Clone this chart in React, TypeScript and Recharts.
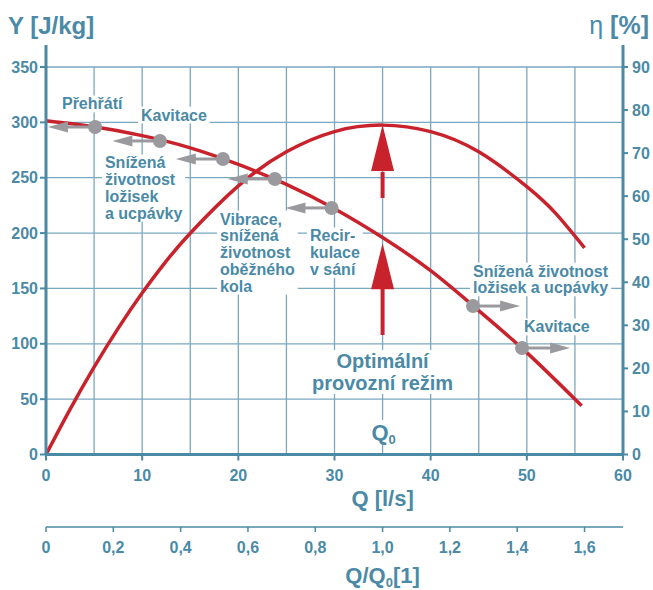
import React from "react"
import { CartesianGrid, ComposedChart, Line, Scatter, XAxis, YAxis } from "recharts"

const BLUE = "#4a8aa6"
const GRID = "#78a9c0"
const RED = "#c8232c"
const GREY = "#9a9a9e"
const FONT = '"Liberation Sans", Arial, Helvetica, sans-serif'

// axis ticks
const Q_TICKS = [0, 5, 10, 15, 20, 25, 30, 35, 40, 45, 50, 55, 60]
const Y_TICKS = [0, 50, 100, 150, 200, 250, 300, 350]
const ETA_TICKS = [0, 10, 20, 30, 40, 50, 60, 70, 80, 90]
const REL_TICKS = [0, 0.2, 0.4, 0.6, 0.8, 1.0, 1.2, 1.4, 1.6]
const Q0 = 35

// head curve Y [J/kg]
const HEAD = [
    { q: 0, y: 301.5 }, { q: 5, y: 296 }, { q: 10, y: 288 }, { q: 15, y: 277 },
    { q: 20, y: 262 }, { q: 25, y: 244 }, { q: 30, y: 222 }, { q: 35, y: 196 },
    { q: 40, y: 166 }, { q: 45, y: 130 }, { q: 50, y: 92 }, { q: 55.7, y: 44 },
]

// efficiency curve eta [%]
const EFFICIENCY = [
    { q: 0, eta: 0 }, { q: 2.5, eta: 10.5 }, { q: 5, eta: 20.3 }, { q: 7.5, eta: 29.3 },
    { q: 10, eta: 37.5 }, { q: 12.5, eta: 44.9 }, { q: 15, eta: 51.4 }, { q: 20, eta: 62.4 },
    { q: 25, eta: 70.3 }, { q: 30, eta: 75 }, { q: 35, eta: 76.5 }, { q: 40, eta: 75 },
    { q: 45, eta: 70.3 }, { q: 50, eta: 62.2 }, { q: 53, eta: 56 }, { q: 56, eta: 48 },
]

// grey markers on the head curve, arrow pointing to tipQ
const GREY_ARROWS = [
    { q: 5.1, y: 295.8, tipQ: 0.2 },
    { q: 11.85, y: 283.2, tipQ: 6.9 },
    { q: 18.4, y: 266.9, tipQ: 13.5 },
    { q: 23.8, y: 248.9, tipQ: 18.9 },
    { q: 29.7, y: 222.7, tipQ: 24.9 },
    { q: 44.4, y: 134.1, tipQ: 49.3 },
    { q: 49.5, y: 96.2, tipQ: 54.5 },
]

// red arrows at Q0
const RED_ARROWS = [
    { q: Q0, tail: 231.7, base: 254.3, tip: 297.6 },
    { q: Q0, tail: 107.9, base: 152.2, tip: 190.9 },
]

// text notes (q, y of first line centre)
const NOTES = [
    { q: 1.66, y: 316.6, lines: ["Přehřátí"] },
    { q: 9.88, y: 306.6, lines: ["Kavitace"] },
    { q: 6.13, y: 263.3, lines: ["Snížená", "životnost", "ložisek", "a ucpávky"] },
    { q: 18.1, y: 212.7, lines: ["Vibrace,", "snížená", "životnost", "oběžného", "kola"] },
    { q: 27.45, y: 197.4, lines: ["Recir-", "kulace", "v sání"] },
    { q: 44.4, y: 165.7, lines: ["Snížená životnost", "ložisek a ucpávky"] },
    { q: 49.7, y: 115.2, lines: ["Kavitace"] },
]
const OPTIMUM = [{ q: Q0, y: 84.5, lines: ["Optimální", "provozní režim"] }]
const Q0_NOTE = [{ q: Q0, y: 20.3 }]

let ctx: CanvasRenderingContext2D | null = null
const textWidth = (s: string, size: number) => {
    if (!ctx) ctx = document.createElement("canvas").getContext("2d")
    if (!ctx) return s.length * size * 0.56
    ctx.font = `bold ${size}px ${FONT}`
    return ctx.measureText(s).width
}

const Note = (size: number, lh: number, middle: boolean) => (props: any) => {
    const { cx, cy, payload } = props
    const lines: string[] = payload.lines
    const w = Math.max(...lines.map(l => textWidth(l, size)))
    const left = middle ? cx - w / 2 : cx
    return (
        <g>
            <rect x={left - 3} y={cy - lh / 2} width={w + 6} height={lines.length * lh} fill="#fff" />
            {lines.map((l, i) => (
                <text key={i} x={cx} y={cy + i * lh} textAnchor={middle ? "middle" : "start"}
                    dominantBaseline="central" fill={BLUE} fontSize={size} fontWeight="bold">{l}</text>
            ))}
        </g>
    )
}

const Q0Mark = (props: any) => {
    const { cx, cy } = props
    return (
        <g>
            <rect x={cx - 13} y={cy - 12} width={28} height={25} fill="#fff" />
            <text x={cx + 1} y={cy} textAnchor="middle" dominantBaseline="central" fill={BLUE} fontWeight="bold">
                <tspan fontSize={22}>Q</tspan><tspan fontSize={13} dy={7}>0</tspan>
            </text>
        </g>
    )
}

const Marker = (props: any) => <circle cx={props.cx} cy={props.cy} r={7} fill={GREY} />

const GreyHead = (props: any) => {
    const { cx, cy, payload } = props
    const d = payload.dir
    return <polygon points={`${cx},${cy} ${cx - d * 20},${cy - 5.5} ${cx - d * 20},${cy + 5.5}`} fill={GREY} />
}

const RedHead = (props: any) => {
    const { cx, cy } = props
    return <polygon points={`${cx},${cy} ${cx - 11.5},${cy + 46} ${cx + 11.5},${cy + 46}`} fill={RED} />
}

const QTick = (props: any) => {
    const { x, y, payload } = props
    if (payload.value % 10 !== 0) return <g />
    return (
        <g>
            <line x1={x} x2={x} y1={y} y2={y + 6} stroke={BLUE} strokeWidth={2} />
            <text x={x} y={y + 20.5} textAnchor="middle" dominantBaseline="central" fill={BLUE} fontSize={16} fontWeight="bold">{payload.value}</text>
        </g>
    )
}

const RelTick = (props: any) => {
    const { x, y, payload } = props
    const v: number = payload.value
    const s = v === 0 ? "0" : v.toFixed(1).replace(".", ",")
    return (
        <g>
            <line x1={x} x2={x} y1={y} y2={y + 5} stroke={BLUE} strokeWidth={1.5} />
            <text x={x} y={y + 20} textAnchor="middle" dominantBaseline="central" fill={BLUE} fontSize={16} fontWeight="bold">{s}</text>
        </g>
    )
}

const LeftTitle = ({ viewBox }: any) => {
    const { x, y, width } = viewBox
    return (
        <g>
            <line x1={x + width} x2={x + width} y1={y - 22} y2={y + 1} stroke={BLUE} strokeWidth={3} />
            <text x={8} y={y - 42} dominantBaseline="central" fill={BLUE} fontSize={24} fontWeight="bold">Y [J/kg]</text>
        </g>
    )
}

const RightTitle = ({ viewBox }: any) => {
    const { x, y } = viewBox
    return (
        <g>
            <line x1={x} x2={x} y1={y - 22} y2={y + 1} stroke={BLUE} strokeWidth={3} />
            <text x={x + 26} y={y - 42} textAnchor="end" dominantBaseline="central" fill={BLUE} fontSize={25}>
                <tspan>η </tspan><tspan fontWeight="bold">[%]</tspan>
            </text>
        </g>
    )
}

const QTitle = ({ viewBox }: any) => {
    const { x, y, width } = viewBox
    return (
        <text x={x + width * Q0 / 60} y={y + 43.5} textAnchor="middle" dominantBaseline="central" fill={BLUE} fontSize={22} fontWeight="bold">Q [l/s]</text>
    )
}

const RelTitle = ({ viewBox }: any) => {
    const { x, y, width } = viewBox
    return (
        <text x={x + width * Q0 / 60} y={y + 48} textAnchor="middle" dominantBaseline="central" fill={BLUE} fontSize={22} fontWeight="bold">
            <tspan>Q/Q</tspan><tspan fontSize={13} dy={7}>0</tspan><tspan dy={-7}>[1]</tspan>
        </text>
    )
}

const App = () => {
    const greyHeads = GREY_ARROWS.map(a => ({ q: a.tipQ, y: a.y, dir: a.tipQ < a.q ? -1 : 1 }))
    const redHeads = RED_ARROWS.map(a => ({ q: a.q, y: a.tip }))

    return (
        <div style={{ position: "absolute", left: 0, top: 0, fontFamily: FONT, background: "#fff" }}>
            <ComposedChart width={653} height={590} margin={{ top: 67, right: 0, bottom: 0, left: 0 }}>
                <CartesianGrid xAxisId="q" yAxisId="left" stroke={GRID} strokeWidth={1.3} />
                <XAxis xAxisId="q" dataKey="q" type="number" domain={[0, 60]} ticks={Q_TICKS} interval={0}
                    height={72.5} axisLine={{ stroke: BLUE, strokeWidth: 3 }} tickLine={false} tickSize={0} tickMargin={0}
                    tick={QTick} label={QTitle} />
                <XAxis xAxisId="r" dataKey="q" type="number" domain={[0, 60 / Q0]} allowDataOverflow ticks={REL_TICKS} interval={0}
                    height={63} axisLine={{ stroke: BLUE, strokeWidth: 1.5 }} tickLine={false} tickSize={0} tickMargin={0}
                    tick={RelTick} label={RelTitle} />
                <YAxis yAxisId="left" type="number" domain={[0, 350]} ticks={Y_TICKS} interval={0} width={46}
                    axisLine={{ stroke: BLUE, strokeWidth: 3 }} tickLine={{ stroke: BLUE, strokeWidth: 2 }} tickSize={6} tickMargin={2}
                    tick={{ fill: BLUE, fontSize: 16, fontWeight: "bold" }} label={LeftTitle} />
                <YAxis yAxisId="right" orientation="right" type="number" domain={[0, 90]} ticks={ETA_TICKS} interval={0} width={30}
                    axisLine={{ stroke: BLUE, strokeWidth: 3 }} tickLine={{ stroke: BLUE, strokeWidth: 2 }} tickSize={5} tickMargin={4}
                    tick={{ fill: BLUE, fontSize: 16, fontWeight: "bold" }} label={RightTitle} />

                <Scatter xAxisId="q" yAxisId="left" data={NOTES} dataKey="y" shape={Note(16, 16.8, false)} isAnimationActive={false} />
                <Scatter xAxisId="q" yAxisId="left" data={OPTIMUM} dataKey="y" shape={Note(20, 22, true)} isAnimationActive={false} />
                <Scatter xAxisId="q" yAxisId="left" data={Q0_NOTE} dataKey="y" shape={Q0Mark} isAnimationActive={false} />

                <Line xAxisId="q" yAxisId="right" data={EFFICIENCY} dataKey="eta" type="natural" stroke={RED} strokeWidth={3.5} dot={false} isAnimationActive={false} />
                <Line xAxisId="q" yAxisId="left" data={HEAD} dataKey="y" type="natural" stroke={RED} strokeWidth={3.5} dot={false} isAnimationActive={false} />

                {GREY_ARROWS.map((a, i) => {
                    const dir = a.tipQ < a.q ? -1 : 1
                    return (
                        <Line key={"g" + i} xAxisId="q" yAxisId="left" data={[{ q: a.q, y: a.y }, { q: a.tipQ - dir * 1.8, y: a.y }]}
                            dataKey="y" type="linear" stroke={GREY} strokeWidth={3} dot={false} isAnimationActive={false} />
                    )
                })}
                {RED_ARROWS.map((a, i) => (
                    <Line key={"r" + i} xAxisId="q" yAxisId="left" data={[{ q: a.q, y: a.tail }, { q: a.q, y: a.base + 1 }]}
                        dataKey="y" type="linear" stroke={RED} strokeWidth={4} dot={false} isAnimationActive={false} />
                ))}
                <Scatter xAxisId="q" yAxisId="left" data={GREY_ARROWS} dataKey="y" shape={Marker} isAnimationActive={false} />
                <Scatter xAxisId="q" yAxisId="left" data={greyHeads} dataKey="y" shape={GreyHead} isAnimationActive={false} />
                <Scatter xAxisId="q" yAxisId="left" data={redHeads} dataKey="y" shape={RedHead} isAnimationActive={false} />
            </ComposedChart>
        </div>
    )
}

export default App
